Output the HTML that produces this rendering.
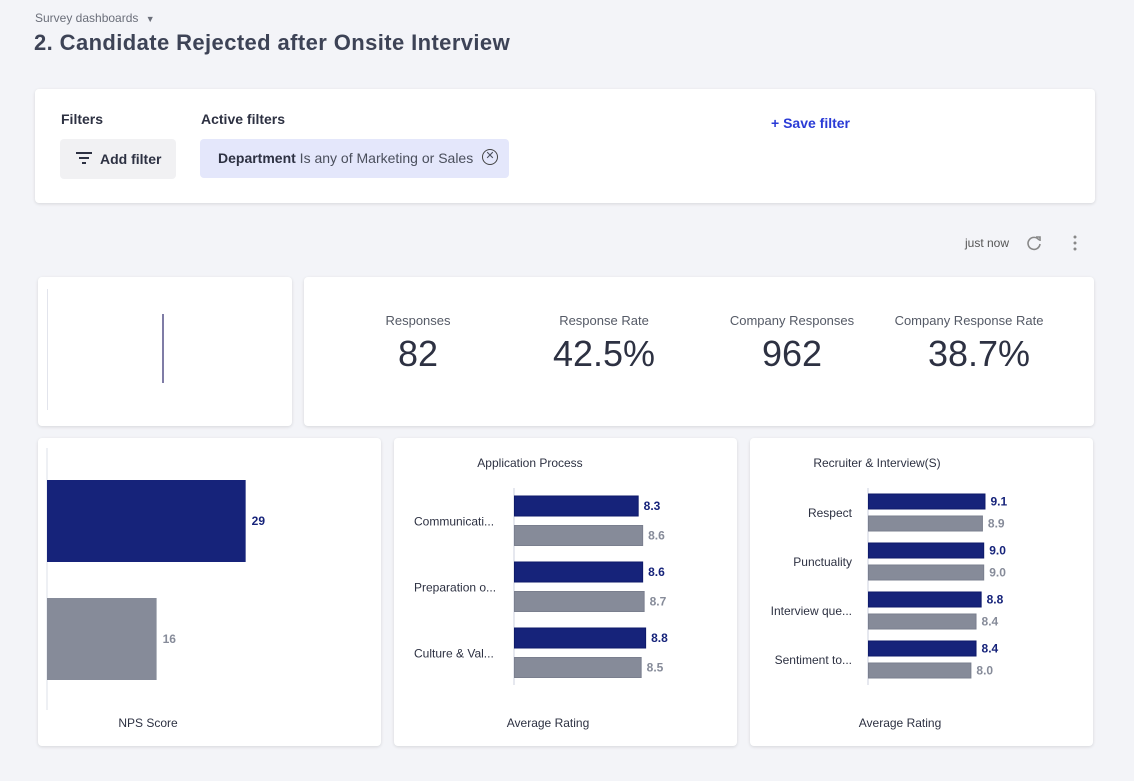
<!DOCTYPE html>
<html><head><meta charset="utf-8">
<style>
*{box-sizing:border-box;margin:0;padding:0}
body{width:1134px;height:781px;background:#f3f4f8;font-family:"Liberation Sans",sans-serif;position:relative;overflow:hidden;color:#2d3142}
.abs{position:absolute}
.card{position:absolute;background:#fff;border-radius:4px;box-shadow:0 1px 3px rgba(0,0,0,0.12)}
.lbl{font-size:13px;color:#555a66;text-align:center;position:absolute;width:180px}
.val{font-size:36px;color:#2d3142;text-align:center;position:absolute;width:200px}
svg text{font-family:"Liberation Sans",sans-serif}
</style></head><body>
<div class="abs" style="left:35px;top:11px;font-size:12px;color:#6b6f7a">Survey dashboards <span style="font-size:9px;margin-left:4px">▼</span></div>
<div class="abs" style="left:34px;top:30px;font-size:22px;letter-spacing:0.4px;font-weight:bold;color:#3d4356">2. Candidate Rejected after Onsite Interview</div>

<div class="card" style="left:35px;top:89px;width:1060px;height:114px">
  <div class="abs" style="left:26px;top:22px;font-size:14px;font-weight:bold;color:#2d3142">Filters</div>
  <div class="abs" style="left:166px;top:22px;font-size:14px;font-weight:bold;color:#2d3142">Active filters</div>
  <div class="abs" style="left:25px;top:50px;width:116px;height:40px;background:#f1f1f3;border-radius:4px;font-size:14px;font-weight:bold;line-height:40px;padding-left:40px;color:#2d3142">
    <svg class="abs" style="left:16px;top:12px" width="16" height="14"><path d="M0 2h16M3 7h10M6 12h4" stroke="#2d3142" stroke-width="2"/></svg>Add filter</div>
  <div class="abs" style="left:165px;top:50px;width:309px;height:39px;background:#e4e7fb;border-radius:4px;font-size:14px;line-height:39px;padding-left:18px;color:#4a4f5c"><b style="color:#2d3142">Department</b> Is any of Marketing or Sales
    <span class="abs" style="left:282px;top:10px;width:16px;height:16px;border:1.3px solid #444;border-radius:50%;font-size:11px;line-height:13px;text-align:center">✕</span></div>
  <div class="abs" style="left:736px;top:26px;font-size:14px;font-weight:bold;color:#2a3bd6">+ Save filter</div>
</div>

<div class="abs" style="left:965px;top:236px;font-size:12px;color:#555">just now</div>
<svg class="abs" style="left:1025px;top:234px" width="18" height="18"><path d="M14 6A6 6 0 1 0 15 10" fill="none" stroke="#888" stroke-width="1.6"/><path d="M11 3h4v4" fill="none" stroke="#888" stroke-width="1.6"/></svg>
<svg class="abs" style="left:1071px;top:234px" width="8" height="18"><circle cx="4" cy="3" r="1.5" fill="#888"/><circle cx="4" cy="9" r="1.5" fill="#888"/><circle cx="4" cy="15" r="1.5" fill="#888"/></svg>

<div class="card" style="left:38px;top:277px;width:254px;height:149px">
  <div class="abs" style="left:9px;top:12px;width:1px;height:121px;background:#e2e4ec"></div>
  <div class="abs" style="left:124px;top:37px;width:2px;height:69px;background:#7f7ca6"></div>
</div>

<div class="card" style="left:304px;top:277px;width:790px;height:149px">
  <div class="lbl" style="left:24px;top:36px">Responses</div>
  <div class="val" style="left:14px;top:56px">82</div>
  <div class="lbl" style="left:210px;top:36px">Response Rate</div>
  <div class="val" style="left:200px;top:56px">42.5%</div>
  <div class="lbl" style="left:398px;top:36px">Company Responses</div>
  <div class="val" style="left:388px;top:56px">962</div>
  <div class="lbl" style="left:575px;top:36px">Company Response Rate</div>
  <div class="val" style="left:575px;top:56px">38.7%</div>
</div>

<div class="card" style="left:38px;top:438px;width:343px;height:308px"></div>
<div class="card" style="left:394px;top:438px;width:343px;height:308px"></div>
<div class="card" style="left:750px;top:438px;width:343px;height:308px"></div>

<svg id="charts" class="abs" style="left:0;top:0" width="1134" height="781"></svg>

<script>
const npsCategories=["Current","Company"];
const npsValues=[29,16];
const appCategories=["Communicati...","Preparation o...","Culture & Val..."];
const appCurrent=[8.3,8.6,8.8];
const appCompany=[8.6,8.7,8.5];
const recCategories=["Respect","Punctuality","Interview que...","Sentiment to..."];
const recCurrent=[9.1,9.0,8.8,8.4];
const recCompany=[8.9,9.0,8.4,8.0];

const NS="http://www.w3.org/2000/svg";
const svg=document.getElementById('charts');
function mk(tag,attrs,parent){const e=document.createElementNS(NS,tag);for(const k in attrs)e.setAttribute(k,attrs[k]);(parent||svg).appendChild(e);return e;}
function txt(x,y,s,attrs){const e=mk('text',Object.assign({x:x,y:y},attrs));e.textContent=s;return e;}
const NAVY="#16237a",GRAY="#868b99";

const npsX=v=>47+v*6.85;
mk('line',{x1:47,y1:448,x2:47,y2:710,stroke:"#dde0ea","stroke-width":1});
npsValues.forEach((v,i)=>{
  const y=480+i*118;
  const r=mk('rect',{x:47,y:y,width:npsX(v)-47,height:82,fill:i?GRAY:NAVY});
  
  
  const t=txt(npsX(v)+6,y+45,String(v),{"font-size":12,"font-weight":"bold",fill:i?GRAY:NAVY});
  
  
});
const nt=txt(148,727,"NPS Score",{"font-size":12,fill:"#2d3142","text-anchor":"middle"});



function hbar(opts){
  const {cats,cur,com,x0,scale,top,gap,bh,inner,labelX,labelAnchor,title,titleX,prefix,axisBottom,labelDy}=opts;
  const sx=v=>x0+v*scale;
  mk('line',{x1:x0,y1:488,x2:x0,y2:axisBottom,stroke:"#dde0ea","stroke-width":1.5});
  const tt=txt(titleX,467,title,{"font-size":12,fill:"#2d3142","text-anchor":"middle"});
  
  
  cats.forEach((c,i)=>{
    const y=top+i*gap;
    [cur[i],com[i]].forEach((v,j)=>{
      const yy=y+j*inner;
      const r=mk('rect',{x:x0+0.5,y:yy,width:sx(v)-x0,height:bh,fill:j?GRAY:NAVY,stroke:j?"#7a7f8e":"#0e1a6a","stroke-width":1});
      
      
      const t=txt(sx(v)+6,yy+bh/2+4,v.toFixed(1),{"font-size":12,"font-weight":"bold",fill:j?GRAY:NAVY});
      
      
    });
    const l=txt(labelX,y+inner+labelDy,c,{"font-size":12,fill:"#2d3142","text-anchor":labelAnchor});
    
    
  });
}
hbar({cats:appCategories,cur:appCurrent,com:appCompany,x0:514,scale:14.9,top:496,gap:66,bh:20,inner:29.5,labelX:414,labelAnchor:"start",title:"Application Process",titleX:530,prefix:"application",axisBottom:685,labelDy:0});
hbar({cats:recCategories,cur:recCurrent,com:recCompany,x0:868,scale:12.8,top:494,gap:49,bh:15,inner:22,labelX:852,labelAnchor:"end",title:"Recruiter & Interview(S)",titleX:877,prefix:"recruiter",axisBottom:685,labelDy:1});
const a1=txt(548,727,"Average Rating",{"font-size":12,fill:"#2d3142","text-anchor":"middle"});


const a2=txt(900,727,"Average Rating",{"font-size":12,fill:"#2d3142","text-anchor":"middle"});


</script>
</body></html>
